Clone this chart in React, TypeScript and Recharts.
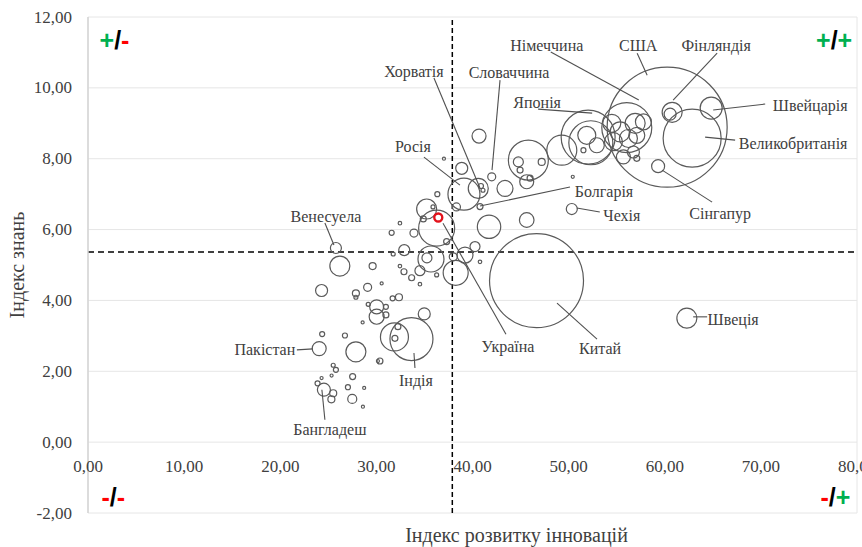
import React from 'react';
import { ScatterChart, Scatter, XAxis, YAxis, ZAxis, CartesianGrid, ReferenceLine } from 'recharts';

// named countries
const countryNames = ['США', 'Китай', 'Великобританія', 'Японія', 'Німеччина', 'Індія', 'Фінляндія', 'Швейцарія', 'Сінгапур', 'Чехія', 'Болгарія', 'Україна', 'Швеція', 'Росія', 'Хорватія', 'Словаччина', 'Венесуела', 'Пакістан', 'Бангладеш'];
const countryInnov = [60.25, 46.66, 62.85, 52.03, 56.05, 33.65, 60.56, 64.83, 59.31, 50.33, 40.78, 36.44, 62.3, 39.11, 40.88, 42.0, 25.79, 24.05, 24.54];
const countryKnow = [8.89, 4.56, 8.58, 8.61, 8.88, 2.91, 9.26, 9.43, 7.79, 6.58, 6.65, 6.34, 3.5, 7.0, 7.23, 7.49, 5.48, 2.64, 1.48];
const countrySize = [21600, 13250, 5050, 4370, 3750, 2775, 216, 726, 254, 182, 54, 96, 600, 1536, 38, 96, 182, 294, 254];

// unlabelled countries
const otherInnov = [40.68, 37.03, 38.88, 40.6, 41.09, 36.34, 38.33, 35.23, 35.89, 34.88, 32.45, 31.59, 33.91, 36.27, 37.31, 41.72, 45.64, 32.9, 31.75, 35.68, 35.26, 38.0, 39.22, 40.26, 38.25, 40.78, 36.27, 34.53, 33.67, 32.87, 32.45, 29.61, 26.2, 29.09, 30.55, 27.87, 27.87, 24.3, 34.53, 32.35, 31.69, 30.03, 30.03, 29.15, 30.99, 30.99, 34.98, 28.57, 31.88, 32.24, 31.93, 24.36, 26.73, 27.87, 30.37, 30.16, 25.51, 25.79, 25.34, 24.3, 27.53, 23.88, 25.51, 27.04, 28.73, 25.32, 27.49, 28.6, 43.38, 45.64, 45.99, 45.81, 44.77, 44.95, 47.2, 49.29, 50.43, 51.89, 51.54, 52.93, 52.31, 54.49, 55.36, 56.92, 57.78, 54.66, 56.22, 57.09, 55.7, 56.74, 57.09, 60.77];
const otherKnow = [8.64, 8.0, 7.73, 7.16, 7.11, 7.0, 6.64, 6.58, 6.64, 6.3, 6.18, 5.91, 5.9, 6.04, 5.66, 6.08, 6.27, 5.42, 5.31, 5.17, 5.2, 5.23, 5.28, 5.52, 4.78, 5.09, 4.72, 4.84, 4.64, 4.81, 4.97, 4.97, 4.97, 4.37, 4.48, 4.2, 4.09, 4.28, 4.46, 4.09, 4.06, 3.82, 3.54, 3.89, 3.82, 3.59, 3.62, 3.38, 2.97, 3.26, 2.93, 3.05, 3.01, 2.55, 2.29, 2.29, 2.17, 2.04, 1.88, 1.81, 1.85, 1.66, 1.38, 1.55, 1.53, 1.21, 1.22, 1.0, 7.16, 7.35, 7.45, 7.96, 7.91, 7.68, 7.91, 8.24, 7.49, 8.66, 8.24, 8.38, 8.45, 9.0, 8.76, 9.0, 9.04, 8.48, 8.57, 8.66, 8.05, 8.19, 8.01, 9.31];
const otherSize = [294, 14, 216, 600, 24, 38, 96, 600, 24, 54, 19, 38, 96, 1944, 54, 821, 320, 182, 24, 1014, 150, 96, 384, 150, 938, 19, 24, 150, 54, 54, 19, 74, 600, 96, 14, 74, 24, 216, 19, 74, 38, 294, 338, 24, 38, 54, 216, 14, 1176, 54, 54, 38, 38, 600, 54, 14, 24, 38, 14, 14, 54, 38, 74, 38, 14, 74, 122, 14, 384, 294, 54, 2400, 150, 54, 74, 1350, 14, 486, 38, 338, 2904, 486, 600, 600, 384, 486, 486, 384, 294, 216, 54, 600];

const xTicks = [0, 10, 20, 30, 40, 50, 60, 70, 80];
const yTicks = [-2, 0, 2, 4, 6, 8, 10, 12];
const avgInnov = 37.9;
const avgKnow = 5.37;

const quadrantX = [1.2, 79.5, 1.4, 79.3];
const quadrantY = [11.34, 11.34, -1.54, -1.54];
const quadrantSigns = [['+', '-'], ['+', '+'], ['-', '-'], ['-', '+']];

const named = countryNames.map((name, i) => ({ name, x: countryInnov[i], y: countryKnow[i], z: countrySize[i] }));
const others = otherInnov.map((x, i) => ({ x, y: otherKnow[i], z: otherSize[i] }));
const xTickData = xTicks.map((x) => ({ x, y: 0 }));
const quadrants = quadrantX.map((x, i) => ({ x, y: quadrantY[i], signs: quadrantSigns[i] }));

// label placement relative to bubble centre, px: text position + leader line
const labelLayout: Record<string, { tx: number; ty: number; line: number[] }> = {
  'США': { tx: -29, ty: -82, line: [-30, -74, -20, -52] },
  'Німеччина': { tx: -80, ty: -82.5, line: [-76, -75.5, 12, -27.5] },
  'Японія': { tx: -51, ty: -35, line: [-50, -28, 4, -24] },
  'Фінляндія': { tx: 46, ty: -69, line: [47, -61, 3, -14] },
  'Швейцарія': { tx: 99, ty: -3, line: [54, -4, 2, 2] },
  'Великобританія': { tx: 101, ty: 5, line: [43, 2, 13, -1] },
  'Сінгапур': { tx: 62, ty: 47, line: [54, 36, 4, 4] },
  'Чехія': { tx: 50, ty: 6, line: [5, -1, 28, 3] },
  'Болгарія': { tx: 124, ty: -15.5, line: [90, -19.5, 0, -0.5] },
  'Китай': { tx: 63.5, ty: 67.5, line: [20.5, 22.5, 60.5, 58.5] },
  'Швеція': { tx: 46.3, ty: 1.7, line: [6.3, -1.3, 20.3, -1.3] },
  'Україна': { tx: 69.7, ty: 128.7, line: [4.7, 5.7, 67.7, 116.7] },
  'Індія': { tx: 4.5, ty: 41, line: [2.5, 14, 3.5, 29] },
  'Бангладеш': { tx: 6, ty: 40, line: [-2, 0, 1, 30] },
  'Пакістан': { tx: -54.3, ty: 1.3, line: [-22.3, 1.3, -6.3, 0.3] },
  'Венесуела': { tx: -10, ty: -31, line: [-11, -25, -2, -3] },
  'Росія': { tx: -51, ty: -48, line: [-40, -37, -4, -9] },
  'Хорватія': { tx: -67, ty: -114, line: [-47, -108, -1, 2] },
  'Словаччина': { tx: 17.3, ty: -104.7, line: [8.3, -96.7, 0.3, -6.7] },
};

const serifStyle = { fontFamily: 'Liberation Serif, Times New Roman, DejaVu Serif, serif' };
const textColor = '#404040';
const fmt = (v: number) => v.toFixed(2).replace('.', ',');

const Bubble = (props: any) => {
  const { cx, cy, width, size, payload } = props;
  const r = width ? width / 2 : Math.sqrt((size || 0) / Math.PI);
  const hl = payload && payload.name === 'Україна';
  return (
    <circle cx={cx} cy={cy} r={r} fill="none" stroke={hl ? '#e3121b' : '#5a5a5a'} strokeWidth={hl ? 2.4 : 1.2} />
  );
};

const CountryLabel = (props: any) => {
  const { cx, cy, payload } = props;
  const l = labelLayout[payload.name];
  if (!l) return <g />;
  return (
    <g>
      <line x1={cx + l.line[0]} y1={cy + l.line[1]} x2={cx + l.line[2]} y2={cy + l.line[3]} stroke="#505050" strokeWidth={1.1} />
      <text x={cx + l.tx} y={cy + l.ty} textAnchor="middle" dominantBaseline="central" fill={textColor} fontSize={16} style={serifStyle}>
        {payload.name}
      </text>
    </g>
  );
};

const XTickLabel = (props: any) => (
  <text x={props.cx} y={props.cy + 24} textAnchor="middle" dominantBaseline="central" fill={textColor} fontSize={17} style={serifStyle}>
    {fmt(props.payload.x)}
  </text>
);

const YTick = (props: any) => (
  <text x={props.x} y={props.y} textAnchor="end" dominantBaseline="central" fill={textColor} fontSize={17} style={serifStyle}>
    {fmt(props.payload.value)}
  </text>
);

const QuadrantMark = (props: any) => {
  const { cx, cy, payload } = props;
  const col = (s: string) => (s === '+' ? '#00b050' : '#ff0000');
  return (
    <text x={cx} y={cy} textAnchor={payload.x > 40 ? 'end' : 'start'} dominantBaseline="central" fontSize={25} fontWeight="bold" style={{ fontFamily: 'Liberation Sans, Arial, sans-serif' }}>
      <tspan fill={col(payload.signs[0])}>{payload.signs[0]}</tspan>
      <tspan fill="#000">/</tspan>
      <tspan fill={col(payload.signs[1])}>{payload.signs[1]}</tspan>
    </text>
  );
};

const YTitle = (props: any) => {
  const vb = props.viewBox || { x: 0, y: 17, width: 88, height: 496 };
  const cx = vb.x + 17;
  const cy = vb.y + vb.height / 2;
  return (
    <text x={cx} y={cy} transform={`rotate(-90, ${cx}, ${cy})`} textAnchor="middle" dominantBaseline="central" fill={textColor} fontSize={20} style={serifStyle}>
      Індекс знань
    </text>
  );
};

const XTitle = (props: any) => {
  const vb = props.viewBox || { x: 88, y: 513, width: 769, height: 34 };
  return (
    <text x={vb.x + vb.width / 2 + 44} y={vb.y + 29} textAnchor="middle" fill={textColor} fontSize={20} style={serifStyle}>
      Індекс розвитку інновацій
    </text>
  );
};

export default function App() {
  return (
    <div style={{ position: 'absolute', left: 0, top: 0, background: '#fff' }}>
      <ScatterChart width={862} height={547} margin={{ top: 17, right: 5, bottom: 0, left: 0 }}>
        <CartesianGrid stroke="#e6e6e6" />
        <XAxis type="number" dataKey="x" domain={[0, 80]} ticks={xTicks} tick={false} axisLine={false} tickLine={false} height={34} label={<XTitle />} />
        <YAxis
          type="number"
          dataKey="y"
          domain={[-2, 12]}
          ticks={yTicks}
          width={88}
          tickLine={false}
          tickMargin={10}
          axisLine={{ stroke: '#d4d4d4', strokeWidth: 1.5 }}
          tick={<YTick />}
          label={<YTitle />}
        />
        <ZAxis type="number" dataKey="z" domain={[0, 21600]} range={[0, Math.PI * 3600]} />
        <ReferenceLine x={avgInnov} stroke="#000" strokeWidth={1.5} strokeDasharray="5 3" />
        <ReferenceLine y={avgKnow} stroke="#000" strokeWidth={1.5} strokeDasharray="6 4" />
        <Scatter data={others} shape={Bubble} isAnimationActive={false} />
        <Scatter data={named} shape={Bubble} isAnimationActive={false} />
        <Scatter data={named} shape={CountryLabel} isAnimationActive={false} />
        <Scatter data={xTickData} shape={XTickLabel} isAnimationActive={false} />
        <Scatter data={quadrants} shape={QuadrantMark} isAnimationActive={false} />
      </ScatterChart>
    </div>
  );
}
